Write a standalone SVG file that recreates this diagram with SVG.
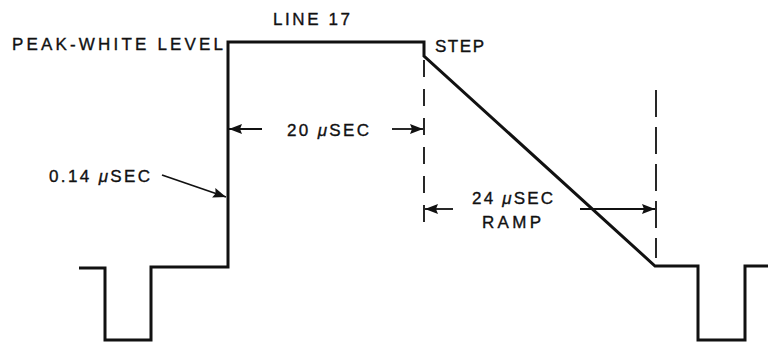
<svg xmlns="http://www.w3.org/2000/svg" width="768" height="347" viewBox="0 0 768 347">
<style>
  .wave{fill:none;stroke:#111;stroke-width:3;stroke-linejoin:miter}
  .dash{fill:none;stroke:#111;stroke-width:1.8}
  .dim{fill:none;stroke:#111;stroke-width:1.8}
  .lbl{font-family:"Liberation Sans",Arial,sans-serif;font-size:17px;fill:#111;stroke:#111;stroke-width:0.35;letter-spacing:2px}
  .mu{font-style:italic}
</style>
<defs>
  <marker id="ah" viewBox="0 0 13 10" refX="13" refY="5" markerWidth="13" markerHeight="10" markerUnits="userSpaceOnUse" orient="auto">
    <path d="M0,0 L13,5 L0,10 L2,5 Z" fill="#111"/>
  </marker>
</defs>
<rect width="768" height="347" fill="#fff"/>
<g id="waveform">
  <path class="wave" d="M79,268 H105 V340 H151 V267 H228 V42 H424 V56 L655,266 H698 V340 H745 V266 H768"/>
</g>
<g id="connectors">
  <line class="dash" x1="424" y1="60" x2="424" y2="230" stroke-dasharray="17 12"/>
  <line class="dash" x1="656" y1="90" x2="656" y2="258" stroke-dasharray="27 10"/>
  <line class="dim" x1="262" y1="129" x2="229" y2="129" marker-end="url(#ah)"/>
  <line class="dim" x1="392" y1="129" x2="423" y2="129" marker-end="url(#ah)"/>
  <line class="dim" x1="453" y1="209" x2="425" y2="209" marker-end="url(#ah)"/>
  <line class="dim" x1="580" y1="209" x2="655" y2="209" marker-end="url(#ah)"/>
  <line class="dim" x1="162" y1="175" x2="226" y2="197" marker-end="url(#ah)"/>
</g>
<g id="labels">
  <text class="lbl" x="273" y="25" textLength="79" lengthAdjust="spacing">LINE 17</text>
  <text class="lbl" x="12" y="50" textLength="213" lengthAdjust="spacing">PEAK-WHITE LEVEL</text>
  <text class="lbl" x="435" y="52" textLength="51" lengthAdjust="spacing">STEP</text>
  <text class="lbl" x="287" y="136" textLength="84" lengthAdjust="spacing">20 <tspan class="mu">μ</tspan>SEC</text>
  <text class="lbl" x="49" y="182" textLength="103" lengthAdjust="spacing">0.14 <tspan class="mu">μ</tspan>SEC</text>
  <text class="lbl" x="472" y="204" textLength="83" lengthAdjust="spacing">24 <tspan class="mu">μ</tspan>SEC</text>
  <text class="lbl" x="482" y="228" textLength="61" lengthAdjust="spacing">RAMP</text>
</g>
</svg>
